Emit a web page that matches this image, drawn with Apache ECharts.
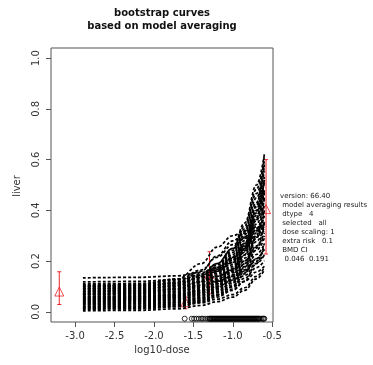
<!DOCTYPE html>
<html>
<head>
<meta charset="utf-8">
<script src="https://cdn.jsdelivr.net/npm/echarts@6/dist/echarts.min.js"></script>
<style>
  html, body { margin: 0; padding: 0; background: #fff; }
  #chart { width: 373px; height: 365px; }
</style>
</head>
<body>
<div id="chart"></div>
<script>
// x positions (log10 dose) where each bootstrap curve is read
const curveXs = [-2.9, -2.2, -1.7, -1.4, -1.2, -1.0, -0.85, -0.7, -0.6];

// bootstrap curves, values at curveXs
const upperCurves = [
  [0.134, 0.136, 0.142, 0.155, 0.175, 0.210, 0.270, 0.390, 0.520],
  [0.118, 0.120, 0.128, 0.145, 0.168, 0.205, 0.260, 0.370, 0.480]
];
const humpCurves = [
  [0.100, 0.105, 0.130, 0.190, 0.255, 0.300, 0.320, 0.335, 0.340],
  [0.090, 0.095, 0.115, 0.160, 0.220, 0.280, 0.310, 0.330, 0.345],
  [0.080, 0.085, 0.105, 0.140, 0.190, 0.250, 0.290, 0.320, 0.335],
  [0.110, 0.112, 0.125, 0.165, 0.215, 0.265, 0.295, 0.320, 0.335],
  [0.070, 0.075, 0.090, 0.120, 0.160, 0.215, 0.260, 0.300, 0.320]
];
const mainCurves = [
  [0.016, 0.018, 0.025, 0.040, 0.063, 0.090, 0.120, 0.157, 0.180],
  [0.020, 0.022, 0.030, 0.046, 0.069, 0.098, 0.132, 0.174, 0.202],
  [0.025, 0.027, 0.035, 0.051, 0.076, 0.106, 0.143, 0.191, 0.224],
  [0.030, 0.032, 0.039, 0.057, 0.082, 0.114, 0.155, 0.209, 0.246],
  [0.034, 0.036, 0.044, 0.062, 0.088, 0.122, 0.166, 0.226, 0.268],
  [0.039, 0.041, 0.049, 0.068, 0.095, 0.130, 0.178, 0.243, 0.290],
  [0.043, 0.045, 0.054, 0.073, 0.101, 0.138, 0.189, 0.260, 0.312],
  [0.048, 0.050, 0.058, 0.079, 0.107, 0.146, 0.201, 0.277, 0.334],
  [0.052, 0.054, 0.063, 0.084, 0.114, 0.154, 0.212, 0.294, 0.356],
  [0.057, 0.059, 0.068, 0.090, 0.120, 0.162, 0.224, 0.311, 0.378],
  [0.061, 0.063, 0.073, 0.095, 0.127, 0.170, 0.235, 0.329, 0.400],
  [0.066, 0.068, 0.077, 0.101, 0.133, 0.178, 0.247, 0.346, 0.422],
  [0.070, 0.072, 0.082, 0.106, 0.139, 0.186, 0.258, 0.363, 0.444],
  [0.075, 0.077, 0.087, 0.112, 0.146, 0.194, 0.270, 0.380, 0.466],
  [0.079, 0.081, 0.092, 0.117, 0.152, 0.202, 0.281, 0.397, 0.488],
  [0.084, 0.086, 0.096, 0.123, 0.158, 0.210, 0.293, 0.414, 0.510],
  [0.088, 0.090, 0.101, 0.128, 0.165, 0.218, 0.304, 0.431, 0.532],
  [0.093, 0.095, 0.106, 0.134, 0.171, 0.226, 0.316, 0.449, 0.554],
  [0.097, 0.099, 0.111, 0.139, 0.177, 0.234, 0.327, 0.466, 0.576],
  [0.102, 0.104, 0.115, 0.145, 0.184, 0.242, 0.339, 0.483, 0.598],
  [0.106, 0.108, 0.120, 0.150, 0.190, 0.250, 0.350, 0.500, 0.620]
];
const crossCurves = [
  [0.030, 0.031, 0.038, 0.055, 0.080, 0.115, 0.175, 0.300, 0.450],
  [0.050, 0.052, 0.060, 0.078, 0.100, 0.125, 0.160, 0.210, 0.250],
  [0.090, 0.092, 0.100, 0.118, 0.140, 0.165, 0.200, 0.255, 0.300],
  [0.020, 0.022, 0.030, 0.045, 0.068, 0.100, 0.150, 0.250, 0.350],
  [0.070, 0.072, 0.080, 0.098, 0.125, 0.170, 0.250, 0.400, 0.580],
  [0.100, 0.102, 0.112, 0.135, 0.160, 0.195, 0.245, 0.320, 0.380],
  [0.045, 0.047, 0.055, 0.074, 0.100, 0.145, 0.225, 0.370, 0.520],
  [0.080, 0.082, 0.090, 0.105, 0.120, 0.140, 0.165, 0.200, 0.225],
  [0.060, 0.062, 0.068, 0.085, 0.110, 0.160, 0.250, 0.420, 0.620],
  [0.012, 0.014, 0.022, 0.038, 0.058, 0.085, 0.120, 0.190, 0.270],
  [0.055, 0.057, 0.065, 0.088, 0.118, 0.165, 0.240, 0.360, 0.470],
  [0.038, 0.040, 0.048, 0.066, 0.092, 0.130, 0.190, 0.290, 0.400]
];
const lowerCurves = [
  [0.004, 0.006, 0.012, 0.025, 0.040, 0.058, 0.085, 0.130, 0.165],
  [0.010, 0.012, 0.020, 0.035, 0.050, 0.068, 0.095, 0.140, 0.175]
];

// observed group means with intervals (red)
const doseLog = [-3.20, -1.60, -1.295, -0.578];
const obsMean = [0.080, 0.038, 0.150, 0.405];
const obsLow = [0.029, 0.012, 0.071, 0.228];
const obsHigh = [0.158, 0.058, 0.237, 0.600];

// bootstrap BMD rug (circles under the curves)
const bmdRug = [-1.61, -1.52, -1.49, -1.46, -1.43, -1.40, -1.38, -1.35, -1.32, -1.30,
  -1.29, -1.28, -1.27, -1.26, -1.25, -1.24, -1.23, -1.22, -1.21, -1.20, -1.19,
  -1.18, -1.17, -1.16, -1.15, -1.14, -1.13, -1.12, -1.11, -1.10, -1.09, -1.08,
  -1.07, -1.06, -1.05, -1.04, -1.03, -1.02, -1.01, -1.00, -0.99, -0.98, -0.97,
  -0.96, -0.95, -0.94, -0.93, -0.92, -0.91, -0.90, -0.89, -0.88, -0.87, -0.86,
  -0.85, -0.84, -0.83, -0.82, -0.81, -0.80, -0.79, -0.78, -0.77, -0.76, -0.75,
  -0.74, -0.73, -0.72, -0.71, -0.70, -0.69, -0.68, -0.67, -0.66, -0.64, -0.62,
  -0.61, -0.60];
const rugLevel = -0.027;

const xTicks = [-3.0, -2.5, -2.0, -1.5, -1.0, -0.5];
const yTicks = [0.0, 0.2, 0.4, 0.6, 0.8, 1.0];

const infoLines = [
  'version: 66.40',
  ' model averaging results',
  ' dtype   4',
  ' selected   all',
  ' dose scaling: 1',
  ' extra risk   0.1',
  ' BMD CI',
  '  0.046  0.191'
];

const chart = echarts.init(document.getElementById('chart'), null, { renderer: 'canvas' });
const font = 'DejaVu Sans';
const axisGrey = '#555';

const curveSeries = [].concat(upperCurves, humpCurves, mainCurves, crossCurves, lowerCurves).map(c => ({
  type: 'line',
  data: c.map((y, i) => [curveXs[i], y]),
  showSymbol: false,
  smooth: 0.4,
  smoothMonotone: 'x',
  silent: true,
  z: 3,
  lineStyle: { color: '#000', width: 1.7, type: [3, 2] }
}));

const options = {
  animation: false,
  backgroundColor: '#fff',
  textStyle: { fontFamily: font },
  grid: { left: 51, right: 100, top: 48, bottom: 43, show: true, borderColor: axisGrey, borderWidth: 1, backgroundColor: 'transparent' },
  xAxis: {
    type: 'value',
    min: -3.305,
    max: -0.49,
    splitLine: { show: false },
    axisLine: { show: false, onZero: false },
    axisTick: { show: true, length: 5, lineStyle: { color: axisGrey }, customValues: xTicks },
    axisLabel: { color: '#333', fontSize: 10, margin: 9, customValues: xTicks, formatter: v => v.toFixed(1) }
  },
  yAxis: {
    type: 'value',
    min: -0.04,
    max: 1.04,
    splitLine: { show: false },
    axisLine: { show: false, onZero: false },
    axisTick: { show: true, length: 5, lineStyle: { color: axisGrey }, customValues: yTicks },
    axisLabel: { color: '#333', fontSize: 10, margin: 10, rotate: 90, customValues: yTicks, formatter: v => v.toFixed(1) }
  },
  graphic: [
    { type: 'text', x: 162, y: 8, style: { text: 'bootstrap curves', font: 'bold 10px "DejaVu Sans"', fill: '#111', align: 'center' } },
    { type: 'text', x: 162, y: 21, style: { text: 'based on model averaging', font: 'bold 10px "DejaVu Sans"', fill: '#111', align: 'center' } },
    { type: 'text', x: 162, y: 350, style: { text: 'log10-dose', font: '10px "DejaVu Sans"', fill: '#333', align: 'center', verticalAlign: 'middle' } },
    { type: 'text', x: 17, y: 186, rotation: Math.PI / 2, style: { text: 'liver', font: '10px "DejaVu Sans"', fill: '#333', align: 'center', verticalAlign: 'middle' } },
    { type: 'text', x: 280, y: 192, style: { text: infoLines.join('\n'), font: '7px "DejaVu Sans"', lineHeight: 9, fill: '#222' } }
  ],
  series: [
    {
      type: 'custom',
      z: 2,
      silent: true,
      data: doseLog.map((x, i) => [x, obsLow[i], obsHigh[i]]),
      renderItem: (params, api) => {
        const lo = api.coord([api.value(0), api.value(1)]);
        const hi = api.coord([api.value(0), api.value(2)]);
        const st = { stroke: '#e8262a', lineWidth: 1 };
        return {
          type: 'group',
          children: [
            { type: 'line', shape: { x1: lo[0], y1: lo[1], x2: hi[0], y2: hi[1] }, style: st },
            { type: 'line', shape: { x1: lo[0] - 2, y1: lo[1], x2: lo[0] + 2, y2: lo[1] }, style: st },
            { type: 'line', shape: { x1: hi[0] - 2, y1: hi[1], x2: hi[0] + 2, y2: hi[1] }, style: st }
          ]
        };
      }
    },
    {
      type: 'scatter',
      z: 2,
      silent: true,
      symbol: 'triangle',
      symbolSize: 9,
      data: doseLog.map((x, i) => [x, obsMean[i]]),
      itemStyle: { color: 'transparent', borderColor: '#e8262a', borderWidth: 1 }
    },
    {
      type: 'scatter',
      z: 4,
      silent: true,
      symbol: 'circle',
      symbolSize: 5,
      data: bmdRug.map(x => [x, rugLevel]),
      itemStyle: { color: 'transparent', borderColor: '#000', borderWidth: 1 }
    }
  ].concat(curveSeries)
};

chart.setOption(options);
</script>
</body>
</html>
